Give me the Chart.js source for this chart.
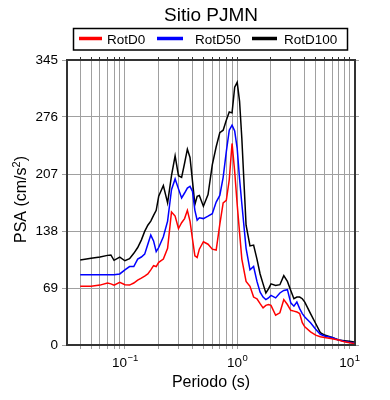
<!DOCTYPE html>
<html>
<head>
<meta charset="utf-8">
<script src="https://cdn.jsdelivr.net/npm/chart.js@4.4.1/dist/chart.umd.min.js"></script>
<style>
html,body{margin:0;padding:0;background:#fff;}
</style>
</head>
<body>
<canvas id="psaChart" width="390" height="400"></canvas>
<script>
// periods (s) and spectral values (cm/s2)
const periods = [0.04,0.05,0.06,0.07,0.075,0.08,0.09,
    0.1,0.11,0.12,0.13,0.14,0.15,0.16,0.17,0.18,0.19,0.2,
    0.22,0.24,0.26,0.28,0.3,0.32,0.34,0.36,0.38,0.4,0.42,0.44,0.46,
    0.5,0.55,0.6,0.65,0.7,0.75,0.8,0.85,0.9,0.95,1.0,1.05,1.1,
    1.2,1.3,1.4,1.5,1.6,1.7,1.8,1.9,2.0,
    2.2,2.4,2.6,2.8,3.0,3.2,3.4,3.6,3.8,4.0,
    4.5,5.0,5.5,6.0,7.0,8.0,9.0,10,11];

const rotD0 = [71,71,72.5,75,74,72.5,76,
    73,72.5,75,78.5,81,83.5,86,91,96,95,100,
    104,117,161,156,141,148,153,163,150,128,108,106,116,
    125,122,116,115,146,172,175,200,244,210,170,136,104,
    77,71,58,56,50,45,48,49,48,
    36,39,55,49,42,41,40,38,27,22,
    16,12,10,9,7.5,6,3.8,2.8,1.8];

const rotD50 = [85,85,85,85,85,85,86,
    91,95,95,104,106.5,110,122,133,126,113,118,
    131,150,188,201,189,178,184,190,192,186,163,151,154,
    153,156,159,173,181,203,234,260,266,259,238,201,171,
    117,91,95,77,64,58,55,57,60,
    57,63,66,67,51,47,52,44,38,34,
    27,19,13,11,9,6,4.5,3.4,2.5];

const rotD100 = [103,105,106.5,108.5,109,102.5,106.5,
    102,104.5,111,118,127,137.5,145,150,157,163,180,
    193,172,205,229,205,203,220,237,227,198,170,180,181,
    168,182,218,240,257,260,272,282,281,312,318,295,250,
    145,120,121,104,86,74,63,68,74,
    72,73,84,77,66,56,58,58,56,52,
    38,26,15,12,9,6,5.2,4.4,3.6];

const seriesNames = ["RotD0", "RotD50", "RotD100"];
const seriesColors = ["#ff0000", "#0000ff", "#000000"];

const yTicks = [0, 69, 138, 207, 276, 345];
const xGrid = [0.04,0.05,0.06,0.07,0.08,0.09,0.1,0.2,0.3,0.4,0.5,0.6,0.7,0.8,0.9,1,2,3,4,5,6,7,8,9,10];
const xLabels = [0.1, 1, 10];
const xExps = ["\u22121", "0", "1"];

const FONT = '"Liberation Sans", Arial, Helvetica, sans-serif';
const gridColor = "#a0a0a0";
const frameColor = "#333333";

function series(vals){
    return periods.map((p, i) => ({x: p, y: vals[i]}));
}

const decorations = {
    id: "decorations",
    afterDraw(chart){
        const ctx = chart.ctx;
        const area = chart.chartArea;
        const xs = chart.scales.x;
        ctx.save();
        ctx.fillStyle = "#000";
        ctx.textBaseline = "alphabetic";

        // title
        ctx.font = "19px " + FONT;
        ctx.textAlign = "center";
        ctx.fillText("Sitio PJMN", (area.left + area.right) / 2, 21);

        // legend box
        ctx.strokeStyle = "#000";
        ctx.lineWidth = 1.5;
        ctx.strokeRect(73.5, 28.5, 274, 21.5);
        const legendX = [[79, 102, 107], [157, 183, 195], [252, 277, 284]];
        ctx.font = "13.5px " + FONT;
        ctx.textAlign = "left";
        chart.data.datasets.forEach((ds, i) => {
            const [a, b, t] = legendX[i];
            ctx.strokeStyle = ds.borderColor;
            ctx.lineWidth = 3.5;
            ctx.beginPath();
            ctx.moveTo(a, 38.5);
            ctx.lineTo(b, 38.5);
            ctx.stroke();
            ctx.fillStyle = "#000";
            ctx.fillText(ds.label, t, 44);
        });

        // x tick labels with exponents
        xLabels.forEach((v, i) => {
            const px = xs.getPixelForValue(v);
            ctx.font = "13.5px " + FONT;
            const w1 = ctx.measureText("10").width;
            ctx.font = "9.5px " + FONT;
            const w2 = ctx.measureText(xExps[i]).width;
            const start = px - (w1 + w2) / 2;
            ctx.font = "13.5px " + FONT;
            ctx.fillText("10", start, 367);
            ctx.font = "9.5px " + FONT;
            ctx.fillText(xExps[i], start + w1 + 0.5, 361);
        });

        // x title
        ctx.font = "16px " + FONT;
        ctx.textAlign = "center";
        ctx.fillText("Periodo (s)", (area.left + area.right) / 2, 387);

        // y title (rotated)
        ctx.translate(25.5, (area.top + area.bottom) / 2 - 3);
        ctx.rotate(-Math.PI / 2);
        ctx.textAlign = "left";
        ctx.font = "16px " + FONT;
        const p1 = "PSA (cm/s", p3 = ")";
        const w1 = ctx.measureText(p1).width;
        const w3 = ctx.measureText(p3).width;
        ctx.font = "11px " + FONT;
        const w2 = ctx.measureText("2").width;
        const s = -(w1 + w2 + w3) / 2;
        ctx.font = "16px " + FONT;
        ctx.fillText(p1, s, 0);
        ctx.fillText(p3, s + w1 + w2, 0);
        ctx.font = "11px " + FONT;
        ctx.fillText("2", s + w1, -6);
        ctx.restore();
    }
};

const ctx = document.getElementById("psaChart").getContext("2d");
const psaChart = new Chart(ctx, {
    type: "line",
    data: {
        datasets: [
            {label: seriesNames[0], data: series(rotD0), borderColor: seriesColors[0]},
            {label: seriesNames[1], data: series(rotD50), borderColor: seriesColors[1]},
            {label: seriesNames[2], data: series(rotD100), borderColor: seriesColors[2]}
        ]
    },
    options: {
        responsive: false,
        animation: false,
        layout: {padding: 0},
        elements: {
            line: {borderWidth: 1.5, tension: 0, fill: false},
            point: {radius: 0}
        },
        plugins: {
            legend: {display: false},
            title: {display: false},
            tooltip: {enabled: false}
        },
        scales: {
            x: {
                type: "logarithmic",
                position: "bottom",
                min: 0.0305,
                max: 11.2,
                afterBuildTicks: (scale) => { scale.ticks = xGrid.map(v => ({value: v})); },
                afterFit: (scale) => { scale.height = 55; },
                ticks: {autoSkip: false, maxRotation: 0, callback: () => ""},
                grid: {color: gridColor, lineWidth: 1, tickLength: 4, drawTicks: true},
                border: {color: frameColor, width: 2}
            },
            x2: {
                type: "logarithmic",
                position: "top",
                min: 0.0305,
                max: 11.2,
                afterBuildTicks: (scale) => { scale.ticks = xGrid.map(v => ({value: v})); },
                afterFit: (scale) => { scale.height = 60; },
                ticks: {autoSkip: false, maxRotation: 0, callback: () => ""},
                grid: {drawOnChartArea: false, color: frameColor, tickLength: 3},
                border: {color: frameColor, width: 2}
            },
            y: {
                position: "left",
                min: 0,
                max: 345,
                afterBuildTicks: (scale) => { scale.ticks = yTicks.map(v => ({value: v})); },
                afterFit: (scale) => { scale.width = 67; },
                ticks: {
                    color: "#000",
                    padding: 4,
                    font: {family: FONT, size: 13.5},
                    callback: (v) => String(v)
                },
                grid: {color: gridColor, lineWidth: 1, tickLength: 5},
                border: {color: frameColor, width: 2}
            },
            y2: {
                position: "right",
                min: 0,
                max: 345,
                afterBuildTicks: (scale) => { scale.ticks = yTicks.map(v => ({value: v})); },
                afterFit: (scale) => { scale.width = 35; },
                ticks: {callback: () => ""},
                grid: {drawOnChartArea: false, color: gridColor, tickLength: 4},
                border: {color: frameColor, width: 2}
            }
        }
    },
    plugins: [decorations]
});
</script>
</body>
</html>
